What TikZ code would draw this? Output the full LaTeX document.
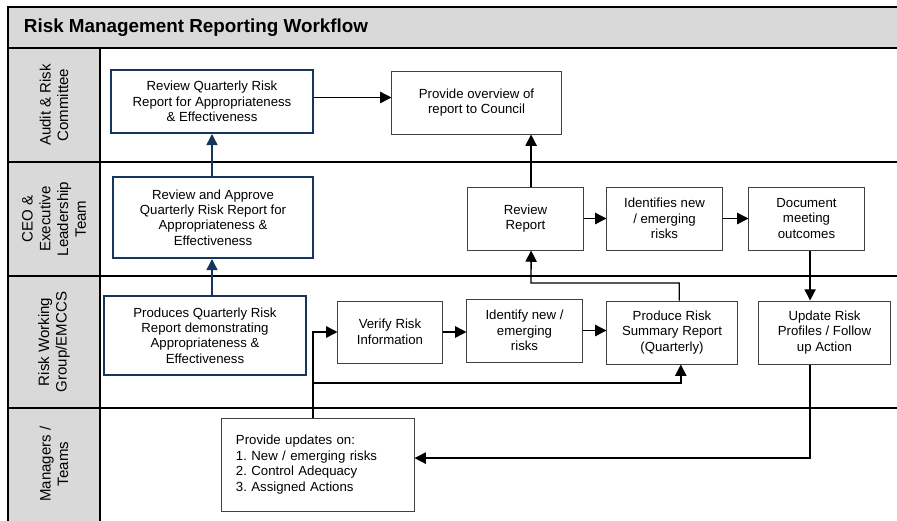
\documentclass[tikz,border=0pt]{standalone}
\usepackage{fontspec}
\setmainfont{Liberation Sans}
\usetikzlibrary{arrows.meta}
\frenchspacing

\definecolor{lanegray}{RGB}{217,217,217}
\definecolor{boxnavy}{RGB}{23,54,93}
\definecolor{boxline}{RGB}{64,64,64}

\begin{document}
\begin{tikzpicture}[x=0.025cm,y=-0.025cm,
    box/.style={draw=boxline, line width=0.7pt, align=center, inner sep=2pt,
      font=\fontsize{9.4}{11}\selectfont},
    navybox/.style={box, draw=boxnavy, line width=1.4pt},
    flow/.style={line width=1pt, -{Triangle[length=8pt,width=8pt]}},
    navyflow/.style={flow, draw=boxnavy},
    lane/.style={line width=0.8pt},
    lanename/.style={rotate=90, align=center, font=\fontsize{10.7}{12.6}\selectfont}]

\useasboundingbox (0,0) rectangle (897,521);

% swimlanes
\fill[lanegray] (8,7) rectangle (897,48);
\fill[lanegray] (8,48) rectangle (100,521);
\draw[lane] (897,7) -- (8,7) -- (8,521);
\draw[lane] (8,48) -- (897,48);
\foreach \y in {162,276,408} \draw[lane] (8,\y) -- (897,\y);
\draw[lane] (100,48) -- (100,521);

\node[anchor=west, font=\fontsize{13.4}{16}\selectfont\bfseries] (title) at (19,28) {Risk Management Reporting Workflow};

\node[lanename] (audit) at (54,105) {Audit \& Risk\\Committee};
\node[lanename] (ceo) at (54,219) {CEO \&\\Executive\\Leadership\\Team};
\node[lanename] (rwg) at (54,342) {Risk Working\\Group/EMCCS};
\node[lanename] (mgr) at (54,464) {Managers /\\Teams};

% audit & risk committee
\node[navybox, minimum width=5.05cm, minimum height=1.575cm] (arcreview) at (212,101.5) {Review Quarterly Risk\\Report for Appropriateness\\\& Effectiveness};
\node[box, minimum width=4.225cm, minimum height=1.575cm] (council) at (476.5,102.5) {Provide overview of\\report to Council};

% ceo & executive leadership team
\node[navybox, minimum width=5cm, minimum height=2.025cm] (ceoapprove) at (213,217.5) {Review and Approve\\Quarterly Risk Report for\\Appropriateness \&\\Effectiveness};
\node[box, minimum width=2.875cm, minimum height=1.575cm] (reviewrep) at (525.5,218.5) {Review\\Report};
\node[box, minimum width=2.875cm, minimum height=1.575cm] (identifies) at (664.5,218.5) {Identifies new\\/ emerging\\risks};
\node[box, minimum width=2.875cm, minimum height=1.575cm] (document) at (806.5,218.5) {Document\\meeting\\outcomes};

% risk working group
\node[navybox, minimum width=5.05cm, minimum height=1.975cm] (produces) at (205,335.5) {Produces Quarterly Risk\\Report demonstrating\\Appropriateness \&\\Effectiveness};
\node[box, minimum width=2.6cm, minimum height=1.55cm] (verify) at (390,332) {Verify Risk\\Information};
\node[box, minimum width=2.875cm, minimum height=1.575cm] (identify) at (524.5,330.5) {Identify new /\\emerging\\risks};
\node[box, minimum width=3.25cm, minimum height=1.575cm] (summary) at (672,332.5) {Produce Risk\\Summary Report\\(Quarterly)};
\node[box, minimum width=3.275cm, minimum height=1.575cm] (update) at (824.5,332.5) {Update Risk\\Profiles / Follow\\up Action};

% managers / teams
\node[box, align=left, text width=4.1cm, inner xsep=0.35cm, minimum height=2.325cm] (updates) at (318,464.5) {Provide updates on:\\1. New / emerging risks\\2. Control Adequacy\\3. Assigned Actions\\[0.42cm]};

\coordinate (split) at (313,383);
\coordinate (jd) at (531,283);

\draw[navyflow] (produces.north -| arcreview.south) -- (ceoapprove.south -| arcreview.south);
\draw[navyflow] (ceoapprove.north -| arcreview.south) -- (arcreview.south);
\draw[flow] ([yshift=0.1cm]arcreview.east) -- ([yshift=0.1cm]arcreview.east -| council.west);
\draw[flow] ([xshift=0.14cm]reviewrep.north) -- ([xshift=0.14cm]reviewrep.north |- council.south);
\draw[flow] (reviewrep) -- (identifies);
\draw[flow] (identifies) -- (document);
\draw[flow] ([xshift=0.09cm]document.south) -- ([xshift=0.09cm]document.south |- update.north);
\draw[flow] ([xshift=0.09cm]document.south |- update.south) |- ([yshift=0.16cm]updates.east);
\draw[flow] ([xshift=-0.12cm]updates.north) |- (verify.west);
\draw[flow] (split) -| ([xshift=0.22cm]summary.south);
\draw[flow] (verify.east) -- (verify.east -| identify.west);
\draw[flow] (identify.east) -- (identify.east -| summary.west);
\draw[flow] ([xshift=0.18cm]summary.north) |- (jd) -- ([xshift=0.14cm]reviewrep.south);
\end{tikzpicture}
\end{document}
